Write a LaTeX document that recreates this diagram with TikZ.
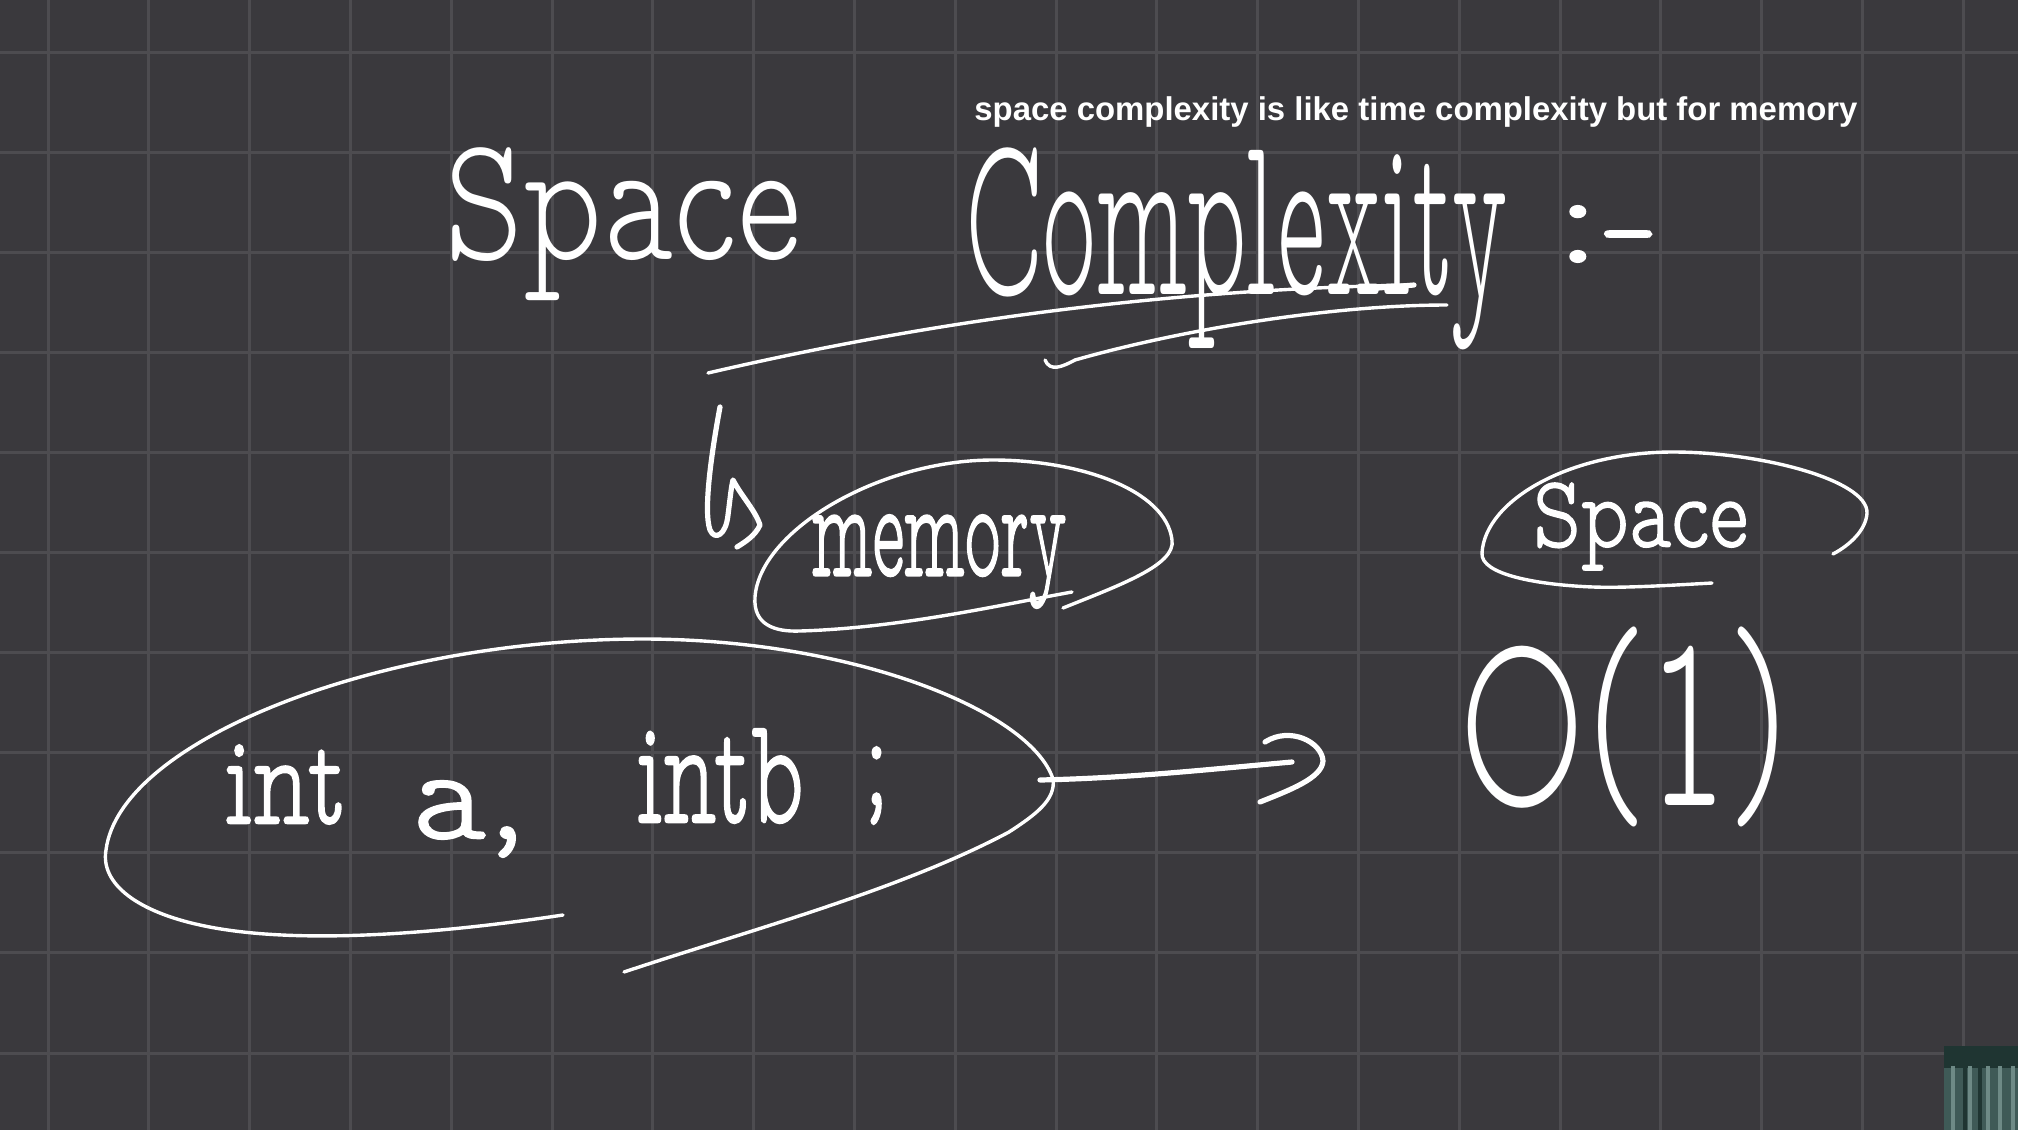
\documentclass[tikz,border=0pt]{standalone}
\usepackage{fontspec}
\usepackage{graphicx}
\newfontfamily\capfont{Liberation Sans}
\newfontfamily\handfont{lmmonoproplt10-regular.otf}
\newfontfamily\handbold{lmmonoproplt10-regular.otf}[FakeBold=1.6]
\definecolor{board}{HTML}{3A393D}
\definecolor{gridc}{HTML}{4D4C50}
\definecolor{glassA}{HTML}{3F5A57}
\definecolor{glassB}{HTML}{6E8A86}
\definecolor{glassC}{HTML}{1F3532}
\tikzset{
  hand/.style={inner sep=0pt, outer sep=0pt, text=white, anchor=north west},
  pen/.style={draw=white, line width=1.7pt, line cap=round, line join=round},
  thickpen/.style={draw=white, line width=2.6pt, line cap=round, line join=round},
  gridline/.style={draw=gridc, line width=1.5pt}
}
\begin{document}
\begin{tikzpicture}[x=0.5pt,y=-0.5pt]
\useasboundingbox (0,0) rectangle (2018,1130);
\fill[board] (0,0) rectangle (2018,1130);
% grid
\foreach \k in {0,...,19} {\draw[gridline] ({48+100.8*\k},0) -- ({48+100.8*\k},1130);}
\foreach \k in {0,...,10} {\draw[gridline] (0,{52+100.1*\k}) -- (2018,{52+100.1*\k});}
% glass object bottom right
\fill[glassA] (1944,1046) rectangle (2018,1130);
\fill[glassC] (1944,1046) rectangle (2018,1068);
\foreach \xx in {1953,1970,1988,2000,2013} {\fill[glassB] (\xx-2,1066) rectangle (\xx+2,1130);}
\foreach \xx in {1965,1980} {\fill[glassC] (\xx-2,1050) rectangle (\xx+2,1130);}

% caption
\node[inner sep=0pt, anchor=base west, text=white] (sub) at (974,120)
  {\fontsize{16.45pt}{20pt}\capfont\bfseries space complexity is like time complexity but for memory};

% title
\node[hand] (tspace) at (444,148) {\resizebox*{178.5pt}{76.5pt}{\handfont Space}};
\node[hand] (tcomp) at (965,148) {\resizebox*{271.5pt}{101pt}{\handfont Complexity}};
\node[hand] (tcolon) at (1553,206) {\resizebox*{54.5pt}{28pt}{\handbold :-}};

% underlines
\draw[pen] (708,373) .. controls (850,340) and (1100,290) .. (1414,285);
\draw[thickpen] (1366,289) -- (1414,285);
\draw[pen] (1045,360) .. controls (1050,372) and (1062,367) .. (1075,360)
  .. controls (1180,330) and (1330,305) .. (1447,305);

% hooked arrow
\draw[thickpen] (720,407) .. controls (712,450) and (703,510) .. (710,530)
  .. controls (715,541) and (726,535) .. (728,515)
  .. controls (730,500) and (731,488) .. (733,480)
  .. controls (742,497) and (755,510) .. (760,525)
  .. controls (755,536) and (745,542) .. (737,547);

% memory
\node[hand] (tmem) at (812,515) {\resizebox*{127.5pt}{46.5pt}{\handbold memory}};
\draw[pen] (1063,608) .. controls (1120,585) and (1176,565) .. (1172,540)
  .. controls (1166,490) and (1080,460) .. (993,460)
  .. controls (880,460) and (760,530) .. (755,597)
  .. controls (753,625) and (775,632) .. (800,631)
  .. controls (900,628) and (1000,605) .. (1072,592);

% Space (right)
\node[hand] (tsp2) at (1533,483) {\resizebox*{107.5pt}{43.5pt}{\handbold Space}};
\draw[pen] (1712,583) .. controls (1660,586) and (1620,588) .. (1593,587)
  .. controls (1540,585) and (1480,575) .. (1482,553)
  .. controls (1485,500) and (1570,452) .. (1673,452)
  .. controls (1760,452) and (1868,480) .. (1867,513)
  .. controls (1866,530) and (1850,545) .. (1833,554);

% int a, intb ;
\node[hand] (tint) at (225,745) {\resizebox*{61pt}{39.5pt}{\handbold int}};
\node[hand] (ta) at (412,781) {\resizebox*{58pt}{38pt}{\handbold a,}};
\node[hand] (tintb) at (637,729) {\resizebox*{83.5pt}{47pt}{\handbold intb}};
\node[hand] (tsemi) at (862,747) {\resizebox*{14.5pt}{38.5pt}{\handbold ;}};
\draw[pen] (563,915) .. controls (430,935) and (290,945) .. (200,925)
  .. controls (140,912) and (100,885) .. (106,850)
  .. controls (120,740) and (380,639) .. (643,639)
  .. controls (850,639) and (1030,710) .. (1053,779)
  .. controls (1056,800) and (1035,815) .. (1009,832)
  .. controls (900,890) and (750,930) .. (624,972);

% arrow to O(1)
\coordinate (arrS) at (1040,780);
\coordinate (arrE) at (1292,762);
\draw[thickpen] (arrS) .. controls +(90,-2) and +(-90,8) .. (arrE);
\draw[thickpen] (1265,742) .. controls (1290,726) and (1322,742) .. (1323,761)
  .. controls (1322,778) and (1290,790) .. (1260,802);

% O(1)
\node[hand] (tO) at (1459,627) {\resizebox*{166pt}{100pt}{\handfont O(1)}};
\end{tikzpicture}
\end{document}
